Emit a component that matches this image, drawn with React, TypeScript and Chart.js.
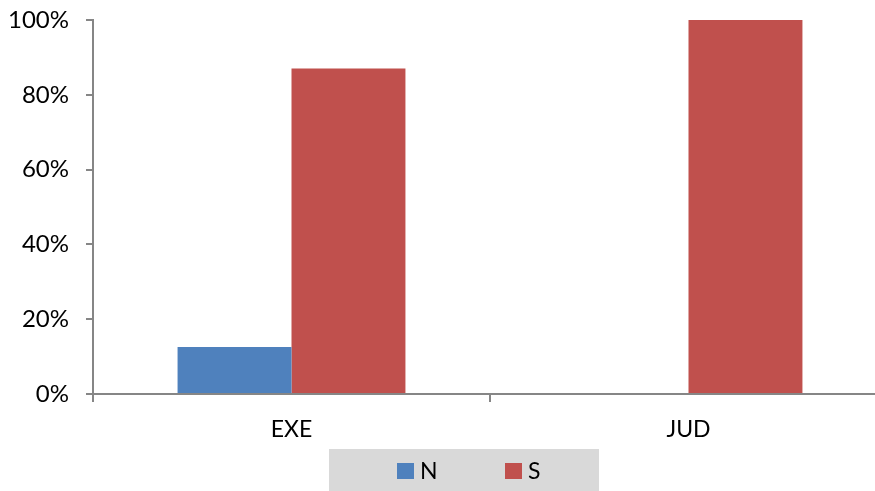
import React, { useEffect, useRef } from "react";
import { Chart, registerables } from "chart.js";

Chart.register(...registerables);

const categories = ["EXE", "JUD"];
const seriesN = [12.6, 0];
const seriesS = [87.0, 100];
const yTicks = [0, 20, 40, 60, 80, 100];

const BLUE = "#4F81BD";
const RED = "#C0504D";
const AXIS = "#868686";
const FONT = "Lato, 'Open Sans', sans-serif";

// Legend panel drawn below the plot: grey strip with square markers
const legendPanel = {
  id: "legendPanel",
  afterDraw(chart: any) {
    const { ctx } = chart;
    ctx.save();
    ctx.fillStyle = "#D9D9D9";
    ctx.fillRect(329, 449, 270, 50);
    const items = chart.data.datasets.map((d: any) => ({
      label: d.label,
      color: d.backgroundColor,
    }));
    const startX = [397, 505];
    ctx.font = `23px ${FONT}`;
    ctx.textBaseline = "middle";
    ctx.textAlign = "left";
    items.forEach((it: any, i: number) => {
      const x = startX[i];
      ctx.fillStyle = it.color;
      ctx.fillRect(x, 463, 17, 16);
      ctx.fillStyle = "#000";
      ctx.fillText(it.label, x + 23, 472);
    });
    ctx.restore();
  },
};

export default function App() {
  const ref = useRef<HTMLCanvasElement | null>(null);

  useEffect(() => {
    if (!ref.current) return;
    const chart = new Chart(ref.current, {
      type: "bar",
      data: {
        labels: categories,
        datasets: [
          {
            label: "N",
            data: seriesN,
            backgroundColor: BLUE,
            categoryPercentage: 0.574,
            barPercentage: 1,
          },
          {
            label: "S",
            data: seriesS,
            backgroundColor: RED,
            categoryPercentage: 0.574,
            barPercentage: 1,
          },
        ],
      },
      options: {
        responsive: false,
        animation: false,
        layout: { padding: { top: 20, right: 3, left: 0, bottom: 0 } },
        plugins: {
          legend: { display: false },
          tooltip: { enabled: false },
        },
        scales: {
          x: {
            grid: {
              offset: true,
              drawOnChartArea: false,
              tickLength: 8,
              color: AXIS,
              lineWidth: 2,
            },
            border: { color: AXIS, width: 2 },
            ticks: {
              color: "#000",
              font: { family: FONT, size: 23 },
              padding: 14,
            },
            afterFit: (s: any) => {
              s.height = 97;
              s.paddingLeft = 0;
              s.paddingRight = 0;
            },
          },
          y: {
            min: 0,
            max: 100,
            afterBuildTicks: (s: any) => {
              s.ticks = yTicks.map((v) => ({ value: v }));
            },
            grid: {
              drawOnChartArea: false,
              tickLength: 7,
              color: AXIS,
              lineWidth: 2,
            },
            border: { color: AXIS, width: 2 },
            ticks: {
              color: "#000",
              font: { family: FONT, size: 24 },
              padding: 17,
              callback: (v: any) => `${v}%`,
            },
            afterFit: (s: any) => {
              s.width = 93;
              s.paddingTop = 0;
              s.paddingBottom = 0;
            },
          },
        },
      },
      plugins: [legendPanel],
    });
    return () => chart.destroy();
  }, []);

  return (
    <div
      style={{
        position: "fixed",
        left: 0,
        top: 0,
        width: 875,
        height: 491,
        overflow: "hidden",
        background: "#fff",
      }}
    >
      <canvas ref={ref} width={890} height={491} style={{ display: "block" }} />
    </div>
  );
}
